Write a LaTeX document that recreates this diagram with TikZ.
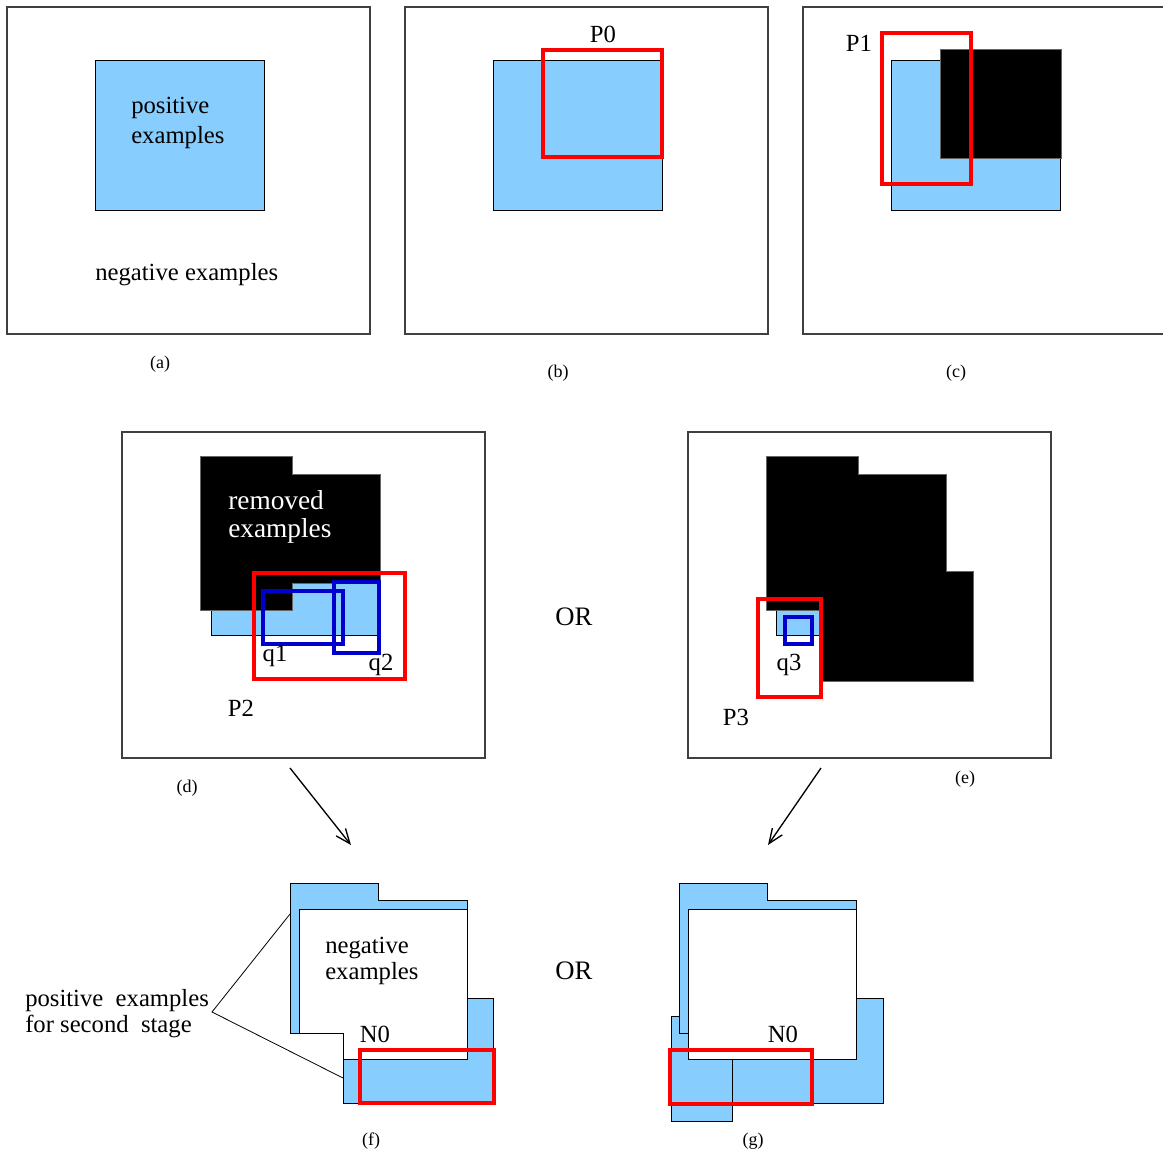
\documentclass[tikz,border=0pt]{standalone}
\usepackage{fontspec}
\setmainfont{Liberation Serif}
\usetikzlibrary{arrows.meta}
\definecolor{posblue}{RGB}{135,206,255}
\definecolor{qblue}{RGB}{0,0,204}
\tikzset{
  frame/.style={draw=black!75, line width=0.8pt},
  region/.style={fill=posblue, draw=black, line width=0.7pt},
  removed/.style={fill=black, draw=black!60, line width=0.5pt},
  negregion/.style={fill=white, draw=black, line width=0.7pt},
  pbox/.style={draw=red, line width=2.3pt},
  qbox/.style={draw=qblue, line width=2.3pt},
  txt/.style={inner sep=0pt, font=\fontsize{18.5}{22.5}\selectfont, align=left},
  tighttxt/.style={inner sep=0pt, font=\fontsize{18.5}{19.5}\selectfont, align=left},
  bigtxt/.style={inner sep=0pt, font=\fontsize{20}{21}\selectfont},
  sublabel/.style={inner sep=0pt, font=\fontsize{13.5}{15}\selectfont},
  flow/.style={draw=black, line width=1pt, -{Straight Barb[length=11pt,width=9pt,line width=1pt]}},
  lead/.style={draw=black, line width=0.6pt}
}
\begin{document}
\begin{tikzpicture}[x=0.75pt,y=-0.75pt]
\useasboundingbox (0,0) rectangle (1163,1156);
\clip (0,0) rectangle (1163,1156);

% ---------- (a) ----------
\draw[frame] (7,7) rectangle (370,334);
\draw[region] (95,60) rectangle (264,210);
\node[txt, anchor=west] (posA) at (131,123) {positive\\examples};
\node[txt, anchor=west] (negA) at (95,275) {negative examples};
\node[sublabel] (capA) at (160,364) {(a)};

% ---------- (b) ----------
\draw[frame] (405,7) rectangle (768,334);
\draw[region] (493,60) rectangle (662,210);
\draw[pbox] (543,50) rectangle (662,157);
\node[txt] (P0) at (603,34) {P0};
\node[sublabel] (capB) at (558,373) {(b)};

% ---------- (c) ----------
\draw[frame] (803,7) rectangle (1170,334);
\draw[region] (891,60) rectangle (1060,210);
\draw[removed] (940,49) rectangle (1061,158);
\draw[pbox] (882,33) rectangle (971,184);
\node[txt] (P1) at (859,43) {P1};
\node[sublabel] (capC) at (956,373) {(c)};

% ---------- (d) ----------
\draw[frame] (122,432) rectangle (485,758);
\draw[region] (211,560) rectangle (380,635);
\draw[removed] (200,456) -- (292,456) -- (292,474) -- (380,474) -- (380,583)
   -- (292,583) -- (292,610) -- (200,610) -- cycle;
\node[bigtxt, text=white, anchor=west, align=left, font=\fontsize{20.5}{21}\selectfont] (remD) at (228,517) {removed\\examples};
\draw[pbox] (254,573) rectangle (405,679);
\draw[qbox] (263,591) rectangle (343,644);
\draw[qbox] (334,582) rectangle (379,653);
\node[txt] (q1) at (275,656) {q1};
\node[txt] (q2) at (381,665) {q2};
\node[txt] (P2) at (241,708) {P2};
\node[sublabel] (capD) at (187,788) {(d)};

% ---------- OR ----------
\node[bigtxt] (or1) at (574,617) {OR};

% ---------- (e) ----------
\draw[frame] (688,432) rectangle (1051,758);
\draw[region] (776,600) rectangle (821,635);
\draw[removed] (766,456) -- (858,456) -- (858,474) -- (946,474) -- (946,571)
   -- (973,571) -- (973,681) -- (821,681) -- (821,610) -- (766,610) -- cycle;
\draw[pbox] (758,599) rectangle (821,697);
\draw[qbox] (785,617) rectangle (812,644);
\node[txt] (q3) at (789,665) {q3};
\node[txt] (P3) at (736,717) {P3};
\node[sublabel] (capE) at (965,779) {(e)};

% ---------- arrows between stages ----------
\coordinate (dOut) at (290,768);
\coordinate (fIn) at (351,845);
\coordinate (eOut) at (821,768);
\coordinate (gIn) at (768,845);
\draw[flow] (dOut) -- (fIn);
\draw[flow] (eOut) -- (gIn);

% ---------- (f) ----------
\draw[region] (290,883) -- (378,883) -- (378,900) -- (467,900) -- (467,998)
   -- (493,998) -- (493,1103) -- (343,1103) -- (343,1033) -- (290,1033) -- cycle;
\draw[negregion] (299,909) -- (467,909) -- (467,1059) -- (343,1059)
   -- (343,1033) -- (299,1033) -- cycle;
\draw[pbox] (360,1050) rectangle (494,1103);
\node[tighttxt, anchor=west] (negF) at (325,961) {negative\\examples};
\node[txt] (N0f) at (375,1034) {N0};
\node[sublabel] (capF) at (371,1141) {(f)};

% label with its two leader lines
\node[tighttxt, anchor=west] (posF) at (25,1014) {positive\ \ examples\\for second\ \ stage};
\coordinate (split) at (212,1012);
\coordinate (upperBlue) at (290,914);
\coordinate (lowerBlue) at (343,1078);
\draw[lead] (upperBlue) -- (split) -- (lowerBlue);

% ---------- OR ----------
\node[bigtxt] (or2) at (574,971) {OR};

% ---------- (g) ----------
\draw[region] (671,1016) rectangle (732,1121);
\draw[region] (679,883) -- (767,883) -- (767,900) -- (856,900) -- (856,909)
   -- (688,909) -- (688,1033) -- (679,1033) -- cycle;
\draw[region] (732,1059) -- (856,1059) -- (856,998) -- (883,998) -- (883,1103)
   -- (732,1103) -- cycle;
\draw[negregion] (688,909) rectangle (856,1059);
\draw[pbox] (670,1050) rectangle (812,1104);
\node[txt] (N0g) at (783,1034) {N0};
\node[sublabel] (capG) at (753,1141) {(g)};
\end{tikzpicture}
\end{document}
